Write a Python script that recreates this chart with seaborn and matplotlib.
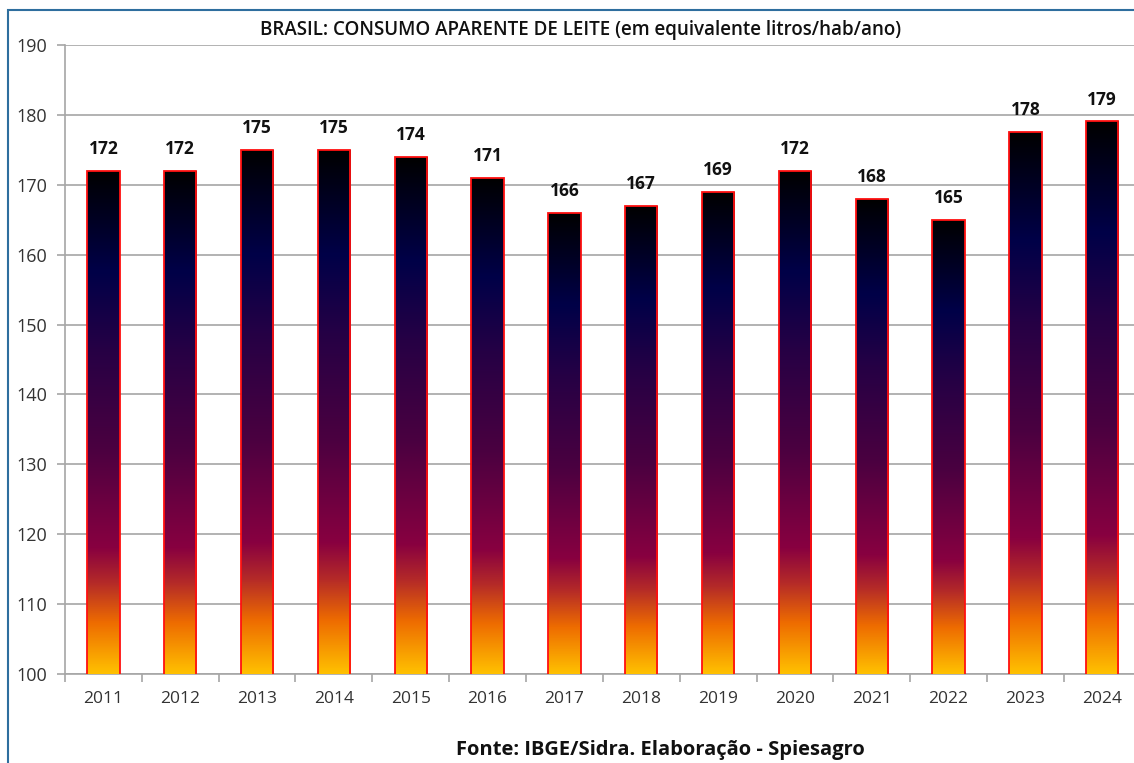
import matplotlib
matplotlib.use("Agg")
import matplotlib.pyplot as plt
import seaborn as sns
import numpy as np
import pandas as pd
from matplotlib.colors import LinearSegmentedColormap
from matplotlib.patches import Rectangle

# Data
years = ["2011", "2012", "2013", "2014", "2015", "2016", "2017",
         "2018", "2019", "2020", "2021", "2022", "2023", "2024"]
consumo = [172, 172, 175, 175, 174, 171, 166, 167, 169, 172, 168, 165, 177.6, 179.1]
labels = ["172", "172", "175", "175", "174", "171", "166",
          "167", "169", "172", "168", "165", "178", "179"]

title = "BRASIL: CONSUMO APARENTE DE LEITE (em equivalente litros/hab/ano)"
source = "Fonte: IBGE/Sidra. Elaboração - Spiesagro"

sns.set_theme(style="white")
plt.rcParams['font.family'] = ['Open Sans', 'DejaVu Sans']

df = pd.DataFrame({"ano": years, "consumo": consumo})

fig = plt.figure(figsize=(11.34, 7.63), dpi=100)
ax = fig.add_axes([0.0573, 0.1166, 0.9486, 0.8244])

sns.barplot(data=df, x="ano", y="consumo", ax=ax, width=0.42,
            color="white", edgecolor="#FF1010", linewidth=1.3, zorder=3)

# gradient fill inside each bar (yellow -> orange -> crimson -> navy -> black)
grad = LinearSegmentedColormap.from_list("fire", [
    (0.0, "#FFC000"), (0.10, "#EE6C00"), (0.18, "#B42A28"),
    (0.25, "#880040"), (0.45, "#4A0040"), (0.65, "#250045"),
    (0.80, "#000048"), (1.0, "#000000")])
g = np.linspace(0, 1, 256).reshape(-1, 1)
for patch in ax.patches:
    x0 = patch.get_x()
    w = patch.get_width()
    h = patch.get_y() + patch.get_height()
    im = ax.imshow(g, cmap=grad, origin="lower", aspect="auto",
                   extent=(x0, x0 + w, 100, h), zorder=3.5)
    im.set_clip_path(patch)
    patch.set_zorder(4)
    patch.set_facecolor("none")

ax.set_ylim(100, 190)
ax.set_xlim(-0.5, 13.5)
ax.set_yticks(range(100, 191, 10))
ax.yaxis.grid(True, color="#A6A6A6", linewidth=1.2, zorder=0)
ax.set_xlabel("")
ax.set_ylabel("")

for s in ["top", "right"]:
    ax.spines[s].set_visible(False)
for s in ["left", "bottom"]:
    ax.spines[s].set_color("#A6A6A6")
    ax.spines[s].set_linewidth(1.2)

ax.tick_params(axis="y", length=6, color="#A6A6A6", width=1.2,
               labelsize=13, labelcolor="#333333", pad=7, left=True)
ax.tick_params(axis="x", which="major", length=0, labelsize=12.5,
               labelcolor="#333333", pad=12)
ax.set_xticks(np.arange(-0.5, 14, 1), minor=True)
ax.tick_params(axis="x", which="minor", length=6, color="#A6A6A6",
               width=1.2, bottom=True)

for i, (v, lab) in enumerate(zip(consumo, labels)):
    ax.annotate(lab, (i, v), xytext=(0, 9), textcoords="offset points",
                ha="center", va="bottom", fontsize=12.5, fontweight="bold",
                color="#111111", zorder=6)

fig.text(0.512, 0.961, title, ha="center", va="center", fontsize=13.5,
         fontweight="semibold", color="#111111")
fig.text(0.582, 0.017, source, ha="center", va="center", fontsize=14.5,
         fontweight="bold", color="#111111")

# outer frame of the chart object
fig.patches.append(Rectangle((8 / 1134, -0.05), 1.2, 1.037,
                             transform=fig.transFigure, fill=False,
                             edgecolor="#2E6E9E", linewidth=1.5))

fig.savefig("out.png", dpi=100)
